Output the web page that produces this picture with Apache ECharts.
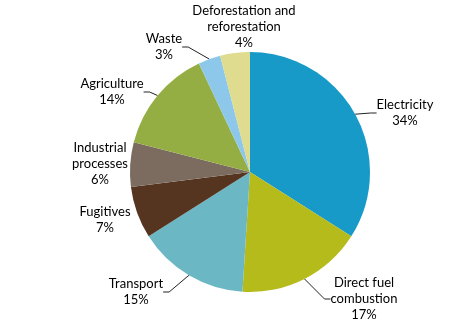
<!DOCTYPE html>
<html>
<head>
<meta charset="utf-8">
<script src="https://cdn.jsdelivr.net/npm/echarts@6/dist/echarts.min.js"></script>
<style>
  html, body { margin: 0; padding: 0; background: #fff; }
  #chart { width: 450px; height: 334px; }
</style>
</head>
<body>
<div id="chart"></div>
<script>
// Emissions by sector, share of total (%)
const sectors = [
  'Electricity',
  'Direct fuel\ncombustion',
  'Transport',
  'Fugitives',
  'Industrial\nprocesses',
  'Agriculture',
  'Waste',
  'Deforestation and\nreforestation'
];
const shares = [34, 17, 15, 7, 6, 14, 3, 4];
const sliceColors = ['#189ac8', '#b5bb1b', '#6bb8c4', '#553520', '#7b6c5f', '#95ae44', '#8dc8ea', '#dfdc8f'];
const showLeader = [true, true, true, false, false, true, true, false];

// Where each label block is centred
const labelSpots = [
  [405, 113], [364, 299], [136, 292], [105, 220],
  [100, 164], [112, 92], [164, 47], [244, 27]
];

const chart = echarts.init(document.getElementById('chart'), null, { renderer: 'canvas' });
chart.setOption({
  backgroundColor: '#ffffff',
  animation: false,
  series: [{
    type: 'pie',
    center: [250, 172],
    radius: [0, 120],
    startAngle: 90,
    clockwise: true,
    avoidLabelOverlap: false,
    data: sectors.map((name, i) => ({
      name: name,
      value: shares[i],
      itemStyle: { color: sliceColors[i] },
      labelLine: { show: showLeader[i] }
    })),
    label: {
      show: true,
      formatter: '{b}\n{c}%',
      fontFamily: 'Lato',
      fontSize: 13,
      lineHeight: 16,
      color: '#000',
      align: 'center'
    },
    labelLine: {
      show: true,
      length: 10,
      length2: 6,
      lineStyle: { color: '#222', width: 1 }
    },
    labelLayout: function (params) {
      const p = labelSpots[params.dataIndex];
      return { x: p[0], y: p[1], align: 'center', verticalAlign: 'middle' };
    }
  }]
});
</script>
</body>
</html>
